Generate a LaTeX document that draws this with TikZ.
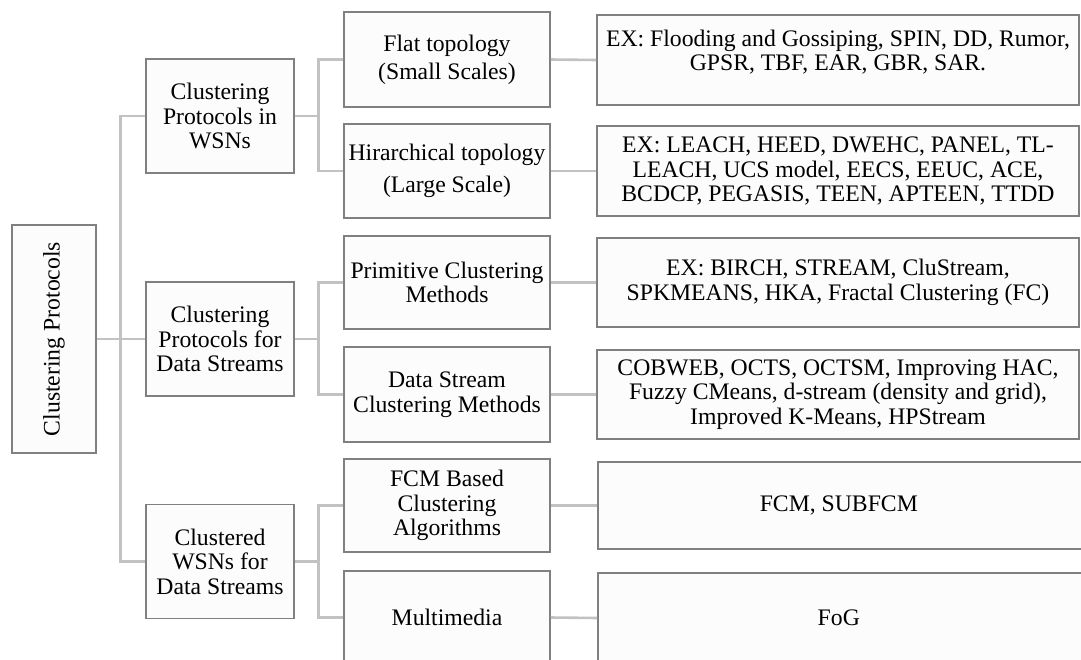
\documentclass[tikz,border=0pt]{standalone}
\usepackage{fontspec}
\setmainfont{Liberation Serif}
\definecolor{boxline}{HTML}{808080}
\definecolor{boxfill}{HTML}{FCFCFC}
\definecolor{linkline}{HTML}{C2C2C2}
\begin{document}
\begin{tikzpicture}[x=1pt,y=-1pt,
  txt/.style={inner sep=0pt,align=center,font={\fontsize{23.7pt}{24.5pt}\selectfont}},
  box/.style={txt,draw=boxline,fill=boxfill,line width=1.6pt,rectangle},
  lvlone/.style={box,minimum width=148pt,minimum height=114pt},
  lvltwo/.style={box,minimum width=206pt},
  lvlthree/.style={box,minimum width=482pt},
  link/.style={draw=linkline,line width=2.6pt}]
\useasboundingbox (0,0) rectangle (1081,659);
\clip (0,0) rectangle (1081,659);

% root
\node[box,minimum width=84pt,minimum height=228pt] (root) at (54,339)
  {\rotatebox{90}{Clustering Protocols}};

% first level
\node[lvlone] (wsn) at (220,116) {Clustering\\Protocols in\\WSNs};
\node[lvlone] (ds)  at (220,339) {Clustering\\Protocols for\\Data Streams};
\node[lvlone] (cw)  at (220,561.5) {Clustered\\WSNs for\\Data Streams};

% second level
\node[lvltwo,minimum height=95pt,font={\fontsize{23.7pt}{28pt}\selectfont}] (flat) at (447,59.5)
  {Flat topology\\(Small Scales)};
\node[lvltwo,minimum height=94pt,font={\fontsize{23.7pt}{32pt}\selectfont}] (hir) at (447,171)
  {Hirarchical topology\\(Large Scale)};
\node[lvltwo,minimum height=93pt] (prim) at (447,282.5) {Primitive Clustering\\Methods};
\node[lvltwo,minimum height=95pt] (dsc)  at (447,394.5) {Data Stream\\Clustering Methods};
\node[lvltwo,minimum height=93pt] (fcm)  at (447,505.5) {FCM Based\\Clustering\\Algorithms};
\node[lvltwo,minimum height=93pt] (mm)   at (447,617.5) {Multimedia};

% third level
\node[lvlthree,minimum height=90pt] (flatex) at (838,60) {};
\node[txt] (flatextxt) at ([yshift=8pt]flatex.center)
  {EX: Flooding and Gossiping, SPIN, DD, Rumor,\\GPSR, TBF, EAR, GBR, SAR.};
\node[lvlthree,minimum height=90pt] (hirex) at (838,171)
  {EX: LEACH, HEED, DWEHC, PANEL, TL-\\LEACH, UCS model, EECS, EEUC, ACE,\\BCDCP, PEGASIS, TEEN, APTEEN, TTDD};
\node[lvlthree,minimum height=89pt] (primex) at (838,282.5)
  {EX: BIRCH, STREAM, CluStream,\\SPKMEANS, HKA, Fractal Clustering (FC)};
\node[lvlthree,minimum height=89pt] (dsex) at (838,394.5)
  {COBWEB, OCTS, OCTSM, Improving HAC,\\Fuzzy CMeans, d-stream (density and grid),\\Improved K-Means, HPStream};
\node[box,minimum width=500pt,minimum height=87pt,anchor=west] (fcmex) at (597,505.5)
  {\hspace*{-18pt}FCM, SUBFCM};
\node[box,minimum width=500pt,minimum height=90pt,anchor=west] (mmex) at (597,618)
  {\hspace*{-18pt}FoG};

% connectors: root to first level
\draw[link] (root.east) -- (ds.west);
\draw[link] (wsn.west) -- ++(-25,0) |- (cw.west);

% first level to second level
\draw[link] (wsn.east) -- ++(24,0);
\draw[link] (flat.west) -- ++(-25,0) |- (hir.west);
\draw[link] (ds.east) -- ++(24,0);
\draw[link] (prim.west) -- ++(-25,0) |- (dsc.west);
\draw[link] (cw.east) -- ++(24,0);
\draw[link] (fcm.west) -- ++(-25,0) |- (mm.west);

% second level to third level
\draw[link] (flat.east) -- (flatex.west);
\draw[link] (hir.east) -- (hirex.west);
\draw[link] (prim.east) -- (primex.west);
\draw[link] (dsc.east) -- (dsex.west);
\draw[link] (fcm.east) -- (fcmex.west);
\draw[link] (mm.east) -- (mmex.west);
\end{tikzpicture}
\end{document}
